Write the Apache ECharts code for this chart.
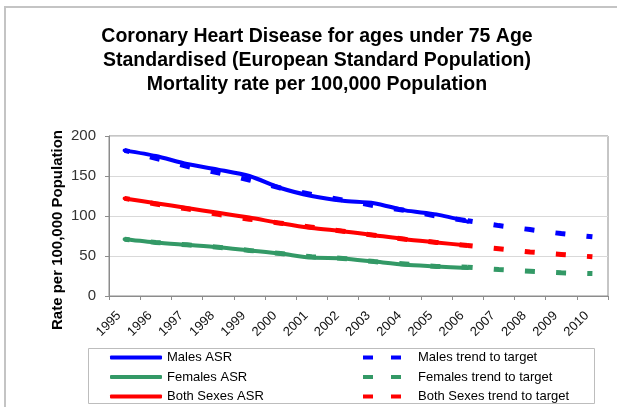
<!DOCTYPE html>
<html>
<head>
<meta charset="utf-8">
<script src="https://cdn.jsdelivr.net/npm/echarts@6/dist/echarts.min.js"></script>
<style>html,body{margin:0;padding:0;background:#fff;}#chart{width:617px;height:407px;}</style>
</head>
<body>
<div id="chart"></div>
<script>
// ---- data ----
var years = ['1995','1996','1997','1998','1999','2000','2001','2002','2003','2004','2005','2006','2007','2008','2009','2010'];
var yTicks = [0, 50, 100, 150, 200];

var malesASR   = [182, 175, 165, 158, 150, 135, 125, 119, 116, 107, 102, 93];
var femalesASR = [71, 67, 64, 61, 57, 53, 48, 47, 43, 39, 37, 35];
var bothASR    = [122, 116, 110, 104, 98, 91, 85, 81, 76, 71, 67, 63];

// trend to target (observed period, 1995-2006)
var malesTrendObs   = [182, 172, 162, 154, 145, 135, 127, 120, 113, 107, 100, 94];
var femalesTrendObs = [71, 67, 64, 61, 57, 53, 49, 47, 43, 40, 37, 36];
var bothTrendObs    = [122, 115, 109, 102, 96, 91, 86, 81, 76, 71, 67, 63];
// trend to target (projection, 2006-2010)
var malesTrendProj   = [94, 88, 83, 78, 74];
var femalesTrendProj = [36, 33, 31, 29, 28];
var bothTrendProj    = [63, 59, 55, 52, 49];

var titleLines = ['Coronary Heart Disease for ages under 75 Age', 'Standardised (European Standard Population)', 'Mortality rate per 100,000 Population'];
var yName = 'Rate per 100,000 Population';

// ---- helpers ----
var BLUE = '#0000ff', GREEN = '#339966', RED = '#ff0000';
var FONT = '"Liberation Sans", Arial, sans-serif';
var projStart = years.indexOf('2006');

function obsData(arr) { return arr.slice(); }
function projData(arr) {
  var out = [];
  for (var i = 0; i < years.length; i++) out.push(i >= projStart && i - projStart < arr.length ? arr[i - projStart] : null);
  return out;
}
function solid(name, color, arr) {
  return { name: name, type: 'line', data: obsData(arr), symbol: 'none', smooth: 0.25,
    lineStyle: { color: color, width: 4, cap: 'round', join: 'round' }, itemStyle: { color: color }, z: 2 };
}
function dashed(name, color, data) {
  return { name: name, type: 'line', data: data, symbol: 'none', connectNulls: false,
    lineStyle: { color: color, width: 5, type: [10, 21.2], dashOffset: 5, cap: 'butt' }, itemStyle: { color: color }, z: 3 };
}

var chart = echarts.init(document.getElementById('chart'), null, { renderer: 'canvas' });
var dashIcon = 'path://M0,0h10v4h-10z M28,0h10v4h-10z';

var option = {
  animation: false,
  backgroundColor: '#ffffff',
  textStyle: { fontFamily: FONT },
  title: {
    text: titleLines.join('\n'),
    left: 312, top: 20, textAlign: 'center',
    textStyle: { fontFamily: FONT, fontSize: 19.5, fontWeight: 'bold', color: '#000', lineHeight: 24 }
  },
  grid: { left: 109, right: 9, top: 136, bottom: 111, show: true, borderColor: '#8c8c8c', borderWidth: 1, backgroundColor: 'transparent' },
  xAxis: {
    type: 'category', data: years, boundaryGap: true,
    axisLine: { lineStyle: { color: '#8c8c8c', width: 1 } },
    axisTick: { show: true, length: 4, lineStyle: { color: '#8c8c8c' } },
    axisLabel: { interval: 0, rotate: 45, margin: 12, fontSize: 13, color: '#111', fontFamily: FONT, padding: [0, 8, 0, 0] },
    splitLine: { show: false }
  },
  yAxis: {
    type: 'value', min: yTicks[0], max: yTicks[yTicks.length - 1], interval: 50,
    axisLine: { show: true, lineStyle: { color: '#8c8c8c', width: 1 } },
    axisTick: { show: true, length: 4, lineStyle: { color: '#8c8c8c' } },
    axisLabel: { margin: 13, fontSize: 15, color: '#333', fontFamily: FONT },
    splitLine: { show: true, lineStyle: { color: '#d9d9d9', width: 1 } }
  },
  legend: [
    {
      left: 110, top: 351, height: 90, orient: 'vertical', itemGap: 6.5, itemWidth: 52, itemHeight: 4, padding: 0,
      textStyle: { fontSize: 13, color: '#000', fontFamily: FONT },
      itemStyle: { borderWidth: 0 },
      data: [
        { name: 'Males ASR', icon: 'roundRect' },
        { name: 'Females ASR', icon: 'roundRect' },
        { name: 'Both Sexes ASR', icon: 'roundRect' }
      ]
    },
    {
      left: 363, top: 351, height: 90, orient: 'vertical', itemGap: 6.5, itemWidth: 38, itemHeight: 4, padding: 0,
      textStyle: { fontSize: 13, color: '#000', fontFamily: FONT, padding: [0, 0, 0, 12] },
      itemStyle: { borderWidth: 0 },
      data: [
        { name: 'Males trend to target', icon: dashIcon },
        { name: 'Females trend to target', icon: dashIcon },
        { name: 'Both Sexes trend to target', icon: dashIcon }
      ]
    }
  ],
  graphic: [
    { type: 'rect', silent: true, z: -10, shape: { x: 5, y: 7, width: 640, height: 450 }, style: { fill: 'none', stroke: '#c4c4c4', lineWidth: 2 } },
    { type: 'rect', silent: true, z: -10, shape: { x: 88.5, y: 348.5, width: 506, height: 55 }, style: { fill: 'none', stroke: '#bdbdbd', lineWidth: 1 } },
    { type: 'text', silent: true, x: 58, y: 230, rotation: Math.PI / 2,
      style: { text: yName, font: 'bold 15px ' + FONT, fill: '#000', textAlign: 'center', textVerticalAlign: 'middle' } }
  ],
  series: [
    solid('Males ASR', BLUE, malesASR),
    solid('Females ASR', GREEN, femalesASR),
    solid('Both Sexes ASR', RED, bothASR),
    dashed('Males trend to target', BLUE, obsData(malesTrendObs)),
    dashed('Females trend to target', GREEN, obsData(femalesTrendObs)),
    dashed('Both Sexes trend to target', RED, obsData(bothTrendObs)),
    dashed('Males trend to target', BLUE, projData(malesTrendProj)),
    dashed('Females trend to target', GREEN, projData(femalesTrendProj)),
    dashed('Both Sexes trend to target', RED, projData(bothTrendProj))
  ]
};
chart.setOption(option);
</script>
</body>
</html>
